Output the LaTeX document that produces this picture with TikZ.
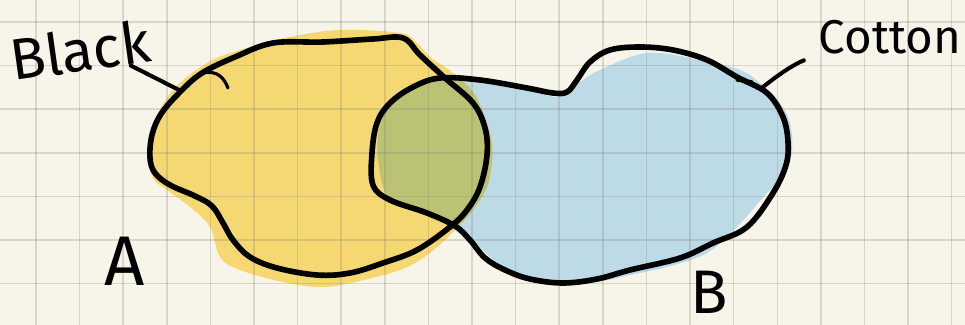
\documentclass[tikz,border=0pt]{standalone}
\usepackage{fontspec}
\setmainfont{Fira Sans}
\definecolor{paper}{HTML}{F7F5EA}
\definecolor{gridc}{HTML}{8A8676}
\definecolor{setA}{HTML}{F5D872}
\definecolor{setB}{HTML}{BDDBE7}
\definecolor{both}{HTML}{BBC274}
\begin{document}
\begin{tikzpicture}[x=0.02cm,y=-0.02cm,line cap=round,line join=round]
	\tikzset{rim/.style={line width=3.2pt},pointer/.style={line width=2.3pt},
		gridline/.style={draw=gridc,opacity=0.28,line width=0.8pt},lbl/.style={inner sep=0pt}}
	\def\g{43.6}
	\fill[paper] (0,0) rectangle (965,325);
	\useasboundingbox (0,0) rectangle (965,325);
	% fills
	\fill[setB] plot[smooth cycle,tension=0.6] coordinates{(378,160) (380,125) (393,103) (415,88) (445,80) (480,82) (527,90) (560,97) (580,82) (600,70) (647,53) (700,60) (740,70) (760,83) (780,103) (790,123) (792,150) (785,175) (767,193) (737,227) (707,253) (667,267) (630,275) (597,282) (560,283) (513,272) (490,257) (472,238) (457,225) (427,213) (390,200)};
	\fill[setA] plot[smooth cycle,tension=0.6] coordinates{(153,125) (173,90) (207,63) (240,50) (290,37) (340,30) (400,33) (417,43) (430,57) (453,73) (475,95) (490,133) (492,160) (487,187) (473,210) (457,228) (430,253) (400,270) (350,283) (320,287) (283,282) (240,270) (220,257) (210,227) (190,207) (167,190) (153,178) (149,155)};
	\begin{scope}
		\clip plot[smooth cycle,tension=0.6] coordinates{(153,125) (173,90) (207,63) (240,50) (290,37) (340,30) (400,33) (417,43) (430,57) (453,73) (475,95) (490,133) (492,160) (487,187) (473,210) (457,228) (430,253) (400,270) (350,283) (320,287) (283,282) (240,270) (220,257) (210,227) (190,207) (167,190) (153,178) (149,155)};
		\fill[both] plot[smooth cycle,tension=0.6] coordinates{(378,160) (380,125) (393,103) (415,88) (445,80) (480,82) (527,90) (560,97) (580,82) (600,70) (647,53) (700,60) (740,70) (760,83) (780,103) (790,123) (792,150) (785,175) (767,193) (737,227) (707,253) (667,267) (630,275) (597,282) (560,283) (513,272) (490,257) (472,238) (457,225) (427,213) (390,200)};
	\end{scope}
	% paper grid
	\foreach \i in {0,...,21}{\draw[gridline] (36+\i*\g,0) -- (36+\i*\g,325);}
	\foreach \j in {0,...,6}{\draw[gridline] (0,22+\j*\g) -- (965,22+\j*\g);}
	% outlines
	\draw[rim] plot[smooth cycle,tension=0.6] coordinates{(202,73) (235,57) (273,43) (323,42) (373,39) (403,38) (420,55) (445,78) (473,103) (485,128) (487,155) (480,187) (467,210) (450,227) (417,250) (383,263) (350,273) (317,275) (277,268) (250,257) (233,240) (223,223) (212,206) (195,196) (170,185) (155,173) (150,158) (152,135) (161,114) (180,92)};
	\draw[rim] plot[smooth cycle,tension=0.6] coordinates{(373,185) (372,153) (377,123) (390,103) (413,87) (440,78) (480,80) (527,88) (553,93) (567,92) (577,80) (590,62) (610,50) (640,47) (673,50) (707,60) (737,77) (767,93) (783,117) (788,142) (786,165) (773,193) (747,227) (713,243) (680,258) (630,270) (597,279) (563,283) (530,279) (505,270) (485,258) (470,240) (455,226) (427,213) (390,200)};
	\draw[line width=1.8pt] (202,73) .. controls (218,70) and (224,78) .. (228,88);
	\draw[line width=2pt] (737,80) -- (752,82);
	% labels
	\node[lbl,rotate=8,font=\fontsize{33}{33}\selectfont] (black) at (80,50) {Black};
	\node[lbl,font=\fontsize{27}{27}\selectfont] (cotton) at (890,37) {Cotton};
	\node[lbl,font=\fontsize{40}{40}\selectfont] (a) at (125,261) {A};
	\node[lbl,font=\fontsize{35}{35}\selectfont] (b) at (709,292) {B};
	\coordinate (blacktip) at (181,91);
	\coordinate (cottontip) at (763,87);
	\draw[pointer] (black.-25) -- (blacktip);
	\draw[pointer,shorten >=9pt] (cottontip) to[bend left=8] (cotton.south west);
\end{tikzpicture}
\end{document}
